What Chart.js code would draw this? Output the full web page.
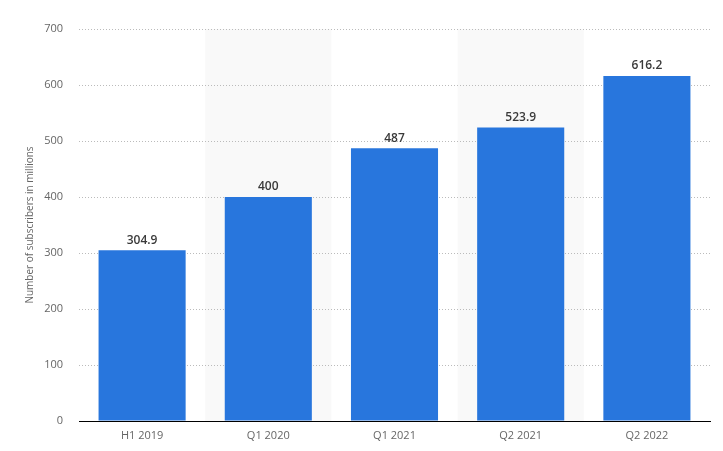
<!DOCTYPE html>
<html lang="en">
<head>
  <meta charset="UTF-8">
  <title>Subscribers</title>
  <script src="https://cdn.jsdelivr.net/npm/chart.js"></script>
  <style>
    html, body { margin: 0; padding: 0; background: #fff; }
    #wrap { width: 723px; height: 451px; }
  </style>
</head>
<body>
  <div id="wrap"><canvas id="subsChart" width="723" height="451"></canvas></div>
  <script>
    const periods = ["H1 2019", "Q1 2020", "Q1 2021", "Q2 2021", "Q2 2022"];
    const subscribers = [304.9, 400, 487, 523.9, 616.2];
    const valueLabels = ["304.9", "400", "487", "523.9", "616.2"];
    const shadedBands = [1, 3];

    // grey background stripes behind every other category
    const bandPlugin = {
      id: 'bands',
      beforeDraw(chart) {
        const ctx = chart.ctx;
        const xs = chart.scales.x;
        const area = chart.chartArea;
        const w = (xs.right - xs.left) / periods.length;
        ctx.save();
        ctx.fillStyle = '#f9f9f9';
        shadedBands.forEach(i => {
          const cx = xs.getPixelForValue(i);
          ctx.fillRect(cx - w / 2, area.top, w, area.bottom - area.top);
        });
        ctx.restore();
      }
    };

    // value on top of every bar
    const labelPlugin = {
      id: 'valueLabels',
      afterDatasetsDraw(chart) {
        const ctx = chart.ctx;
        const meta = chart.getDatasetMeta(0);
        ctx.save();
        ctx.font = '600 12px "Open Sans", sans-serif';
        ctx.fillStyle = '#3a3a3a';
        ctx.textAlign = 'center';
        ctx.textBaseline = 'bottom';
        meta.data.forEach((bar, i) => {
          ctx.fillText(valueLabels[i], bar.x, bar.y - 4);
        });
        ctx.restore();
      }
    };

    new Chart(document.getElementById('subsChart'), {
      type: 'bar',
      data: {
        labels: periods,
        datasets: [{
          data: subscribers,
          backgroundColor: '#2876dd',
          borderWidth: 0,
          barPercentage: 0.69,
          categoryPercentage: 1
        }]
      },
      options: {
        responsive: false,
        animation: false,
        layout: { padding: { top: 29, right: 13, left: 0, bottom: 0 } },
        plugins: {
          legend: { display: false },
          tooltip: { enabled: false }
        },
        scales: {
          x: {
            offset: true,
            grid: { display: false, drawTicks: false },
            border: { display: true, color: '#000', width: 1 },
            ticks: {
              color: '#666',
              padding: 8,
              font: { family: '"Open Sans", sans-serif', size: 11 }
            },
            afterFit(scale) { scale.height = 30; }
          },
          y: {
            min: 0,
            max: 700,
            ticks: {
              stepSize: 100,
              color: '#666',
              padding: 16,
              font: { family: '"Open Sans", sans-serif', size: 11 }
            },
            grid: {
              color: '#bbb',
              drawTicks: false
            },
            border: { display: false, dash: [1, 2] },
            title: {
              display: true,
              text: 'Number of subscribers in millions',
              color: '#666',
              padding: { top: 24, bottom: 0 },
              font: { family: '"Open Sans", sans-serif', size: 10 }
            },
            afterFit(scale) { scale.width = 79; }
          }
        }
      },
      plugins: [bandPlugin, labelPlugin]
    });
  </script>
</body>
</html>
